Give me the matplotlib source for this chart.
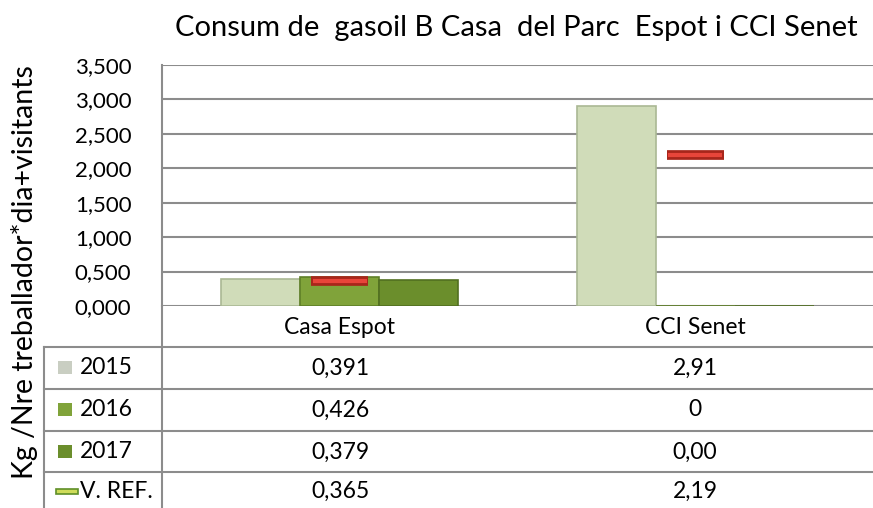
import matplotlib
matplotlib.use("Agg")
import matplotlib.pyplot as plt
from matplotlib.patches import Rectangle
import numpy as np

categories = ["Casa Espot", "CCI Senet"]
series_names = ["2015", "2016", "2017"]
v2015 = [0.391, 2.91]
v2016 = [0.426, 0.0]
v2017 = [0.379, 0.0]
vref = [0.365, 2.19]
ref_name = "V. REF."
cell_text = [["0,391", "2,91"], ["0,426", "0"], ["0,379", "0,00"], ["0,365", "2,19"]]
yticks = [0, 0.5, 1.0, 1.5, 2.0, 2.5, 3.0, 3.5]
ytick_labels = ["0,000", "0,500", "1,000", "1,500", "2,000", "2,500", "3,000", "3,500"]
title = "Consum de  gasoil B Casa  del Parc  Espot i CCI Senet"
ylabel = "Kg /Nre treballador*dia+visitants"

plt.rcParams['font.family'] = ['Lato', 'DejaVu Sans']

W, H = 873, 508
fig = plt.figure(figsize=(W / 100, H / 100), dpi=100)

def fx(px):
    return px / W

def fy(py):
    return 1 - py / H

GRID = "#8c8c8c"
left, right, top, bottom = 162, 873, 65, 306
ax = fig.add_axes([fx(left), fy(bottom), fx(right - left), (bottom - top) / H])
ax.set_ylim(0, 3.5)
ax.set_xlim(-0.5, len(categories) - 0.5)
for s in ["top", "right", "bottom"]:
    ax.spines[s].set_visible(False)
ax.spines["left"].set_color(GRID)
ax.spines["left"].set_linewidth(1.5)
ax.set_yticks(yticks)
ax.set_yticklabels(ytick_labels, fontsize=16)
ax.tick_params(axis="y", length=0, pad=22)
ax.set_xticks([])
ax.yaxis.grid(True, color=GRID, linewidth=1.5)
ax.set_axisbelow(True)
ax.set_facecolor("white")

bw = 1 / 4.5
x = np.arange(len(categories))
colors = ["#d0dcb9", "#80a33a", "#6b8e2c"]
edges = ["#aab894", "#5f7f27", "#516f21"]
for k, vals in enumerate([v2015, v2016, v2017]):
    ax.bar(x + (k - 1) * bw, vals, width=bw, color=colors[k], edgecolor=edges[k],
           linewidth=1.2, zorder=3)

ax.hlines(vref, x - bw * 0.36, x + bw * 0.36, colors="#a8261b", linewidth=7, zorder=4)
ax.hlines(vref, x - bw * 0.34, x + bw * 0.34, colors="#e8453a", linewidth=3, zorder=5)

fig.text(fx(516), fy(36), title, ha="center", va="baseline", fontsize=21)
fig.text(fx(25), fy(272), ylabel, ha="center", va="center", rotation=90, fontsize=20.5)

# data table
row_lines = [347, 389, 431, 472]
for yl in row_lines:
    fig.add_artist(plt.Line2D([fx(44), fx(873)], [fy(yl), fy(yl)], color=GRID, linewidth=1.5))
fig.add_artist(plt.Line2D([fx(162), fx(162)], [fy(306), fy(508)], color=GRID, linewidth=1.5))
fig.add_artist(plt.Line2D([fx(44), fx(44)], [fy(347), fy(508)], color=GRID, linewidth=1.5))

col_centers = [340, 695]
for j, c in enumerate(categories):
    fig.text(fx(col_centers[j]), fy(328), c, ha="center", va="center", fontsize=16.5)

row_centers = [368, 410, 452, 491]
row_names = series_names + [ref_name]
leg_colors = ["#c9cec2", "#80a33a", "#6b8e2c"]
for i, name in enumerate(row_names):
    yc = row_centers[i]
    if i < 3:
        fig.add_artist(Rectangle((fx(58), fy(yc + 6)), fx(14), 13 / H, transform=fig.transFigure,
                                 facecolor=leg_colors[i], edgecolor="none"))
        tx = 80
    else:
        fig.add_artist(Rectangle((fx(56), fy(yc + 3)), fx(22), 5 / H, transform=fig.transFigure,
                                 facecolor="#cfdc5a", edgecolor="#5f8f28", linewidth=1.2))
        tx = 80
    fig.text(fx(tx), fy(yc), name, ha="left", va="center", fontsize=16.5)
    for j in range(len(categories)):
        fig.text(fx(col_centers[j]), fy(yc), cell_text[i][j], ha="center", va="center", fontsize=16.5)

fig.savefig("out.png", dpi=100)
